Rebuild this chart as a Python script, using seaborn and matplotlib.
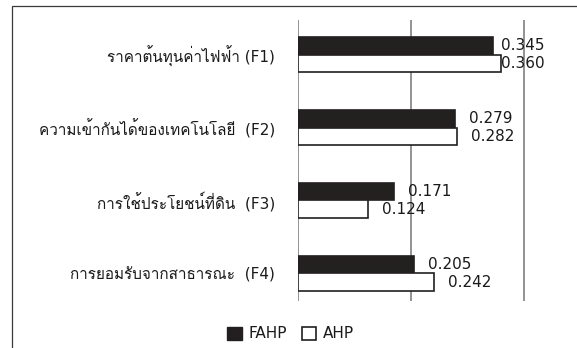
import matplotlib
matplotlib.use("Agg")
import matplotlib.pyplot as plt
from matplotlib import font_manager, ft2font
from matplotlib.patches import Patch, Rectangle
import pandas as pd
import seaborn as sns

# Criteria and their weights from the two methods
factors = [
    "ราคาต้นทุนค่าไฟฟ้า (F1)",
    "ความเข้ากันได้ของเทคโนโลยี  (F2)",
    "การใช้ประโยชน์ที่ดิน  (F3)",
    "การยอมรับจากสาธารณะ  (F4)",
]
methods = ["FAHP", "AHP"]
fahp_weights = [0.345, 0.279, 0.171, 0.205]
ahp_weights = [0.360, 0.282, 0.124, 0.242]


def find_thai_family():
    """Return the name of an installed font that carries Thai glyphs."""
    for entry in font_manager.fontManager.ttflist:
        try:
            cmap = ft2font.FT2Font(entry.fname).get_charmap()
        except Exception:
            continue
        if 0x0E23 in cmap and 0x0E49 in cmap and 0x0E32 in cmap:
            return entry.name
    return None


sns.set_style("white")
thai = find_thai_family()
families = ["DejaVu Sans"]
if thai:
    families.append(thai)
plt.rcParams["font.family"] = families

df = pd.DataFrame({
    "factor": factors * 2,
    "weight": fahp_weights + ahp_weights,
    "method": [methods[0]] * len(factors) + [methods[1]] * len(factors),
})

ink = "#231f20"
text_color = "#1a1a1a"
colors = {"FAHP": ink, "AHP": "white"}

fig = plt.figure(figsize=(5.77, 3.48), dpi=100)
ax = fig.add_axes([298 / 577, 1 - 301 / 348, (534.9 - 298) / 577, 281 / 348])

sns.barplot(
    data=df, y="factor", x="weight", hue="method", hue_order=methods,
    order=factors, palette=colors, orient="h", width=0.48,
    edgecolor=ink, linewidth=1.2, legend=False, ax=ax,
)

ax.set_xlim(0, 0.42)
ax.set_ylim(3.38, -0.475)
ax.set_xticks([0, 0.2, 0.4])
ax.set_xticklabels([])
ax.xaxis.grid(True, color="#808080", linewidth=1.2)
ax.set_axisbelow(True)
for s in ax.spines.values():
    s.set_visible(False)
ax.set_xlabel("")
ax.set_ylabel("")
ax.tick_params(axis="x", length=0)
ax.tick_params(axis="y", length=0, pad=16.5, labelsize=11, labelcolor=text_color)

# Value labels beside each bar (gap in points)
gaps = [[6, 0], [10, 10], [10, 10], [10, 10]]
for i, factor in enumerate(factors):
    for j, vals in enumerate([fahp_weights, ahp_weights]):
        v = vals[i]
        yc = i + (-0.12 if j == 0 else 0.12)
        ax.annotate(f"{v:.3f}", xy=(v, yc), xytext=(gaps[i][j], 0),
                    textcoords="offset points", ha="left", va="center",
                    fontsize=11, color=text_color, annotation_clip=False)

handles = [Patch(facecolor=ink, edgecolor=ink, linewidth=1.0),
           Patch(facecolor="white", edgecolor=ink, linewidth=1.2)]
fig.legend(handles, methods, loc="center", bbox_to_anchor=(290.5 / 577, 1 - 334 / 348),
           ncol=2, frameon=False, fontsize=11, handlelength=0.95, handleheight=0.95,
           handletextpad=0.4, columnspacing=1.0, labelcolor=text_color)

# Frame around the chart area
fig.add_artist(Rectangle((12 / 577, -0.5), 2, 0.5 + 1 - 6 / 348, transform=fig.transFigure,
                         fill=False, edgecolor="#3a3a3a", linewidth=0.9))

fig.savefig("out.png", dpi=100)
